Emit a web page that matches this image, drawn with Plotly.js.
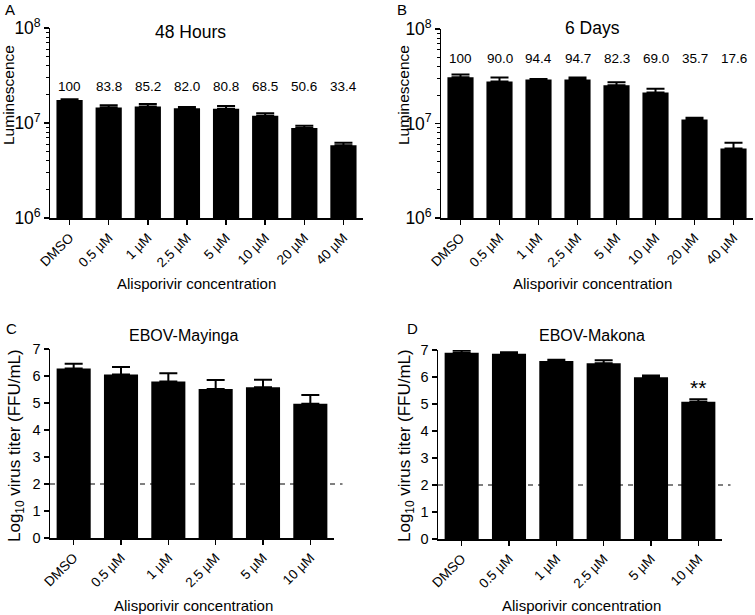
<!DOCTYPE html>
<html><head><meta charset="utf-8">
<script src="https://cdn.plot.ly/plotly-3.0.1.min.js"></script>
<style>html,body{margin:0;padding:0;background:#fff}</style>
</head><body><div id="chart" style="width:755px;height:615px"></div>
<script>
// ---- data ----
const concLuminescence = ['DMSO', '0.5 µM', '1 µM', '2.5 µM', '5 µM', '10 µM', '20 µM', '40 µM'];
const concTiter = ['DMSO', '0.5 µM', '1 µM', '2.5 µM', '5 µM', '10 µM'];

const lum48h = [1.75e7, 1.46e7, 1.49e7, 1.43e7, 1.41e7, 1.19e7, 8.85e6, 5.83e6];
const lum48hErr = [3.0e5, 7.5e5, 9.5e5, 4.2e5, 1.0e6, 7.5e5, 5.3e5, 3.8e5];
const pct48h = ['100', '83.8', '85.2', '82.0', '80.8', '68.5', '50.6', '33.4'];

const lum6d = [3.09e7, 2.79e7, 2.92e7, 2.93e7, 2.54e7, 2.13e7, 1.10e7, 5.44e6];
const lum6dErr = [2.1e6, 2.8e6, 3.0e5, 1.4e6, 1.95e6, 2.0e6, 4.8e5, 8.1e5];
const pct6d = ['100', '90.0', '94.4', '94.7', '82.3', '69.0', '35.7', '17.6'];

const titerMayinga = [6.28, 6.06, 5.80, 5.52, 5.58, 4.97];
const titerMayingaErr = [0.17, 0.27, 0.30, 0.33, 0.28, 0.33];
const titerMakona = [6.90, 6.86, 6.59, 6.51, 5.99, 5.08];
const titerMakonaErr = [0.08, 0.06, 0.05, 0.11, 0.07, 0.10];

const detectionLimit = 2;
const significance = [{cat: '10 µM', label: '**'}];

// ---- styling helpers ----
const FONT = 'Arial, "Liberation Sans", sans-serif';
const W = 755, H = 615;
const px = v => v / W;
const py = v => 1 - v / H;

function barTrace(x, y, err, xa, ya, width) {
  return {
    type: 'bar', x: x, y: y, xaxis: xa, yaxis: ya, width: width,
    marker: {color: '#000', line: {width: 0}},
    error_y: {type: 'data', symmetric: false, array: err, arrayminus: err.map(() => 0),
              color: '#000', thickness: 2, width: 9},
    showlegend: false, hoverinfo: 'x+y'
  };
}

const data = [
  barTrace(concLuminescence, lum48h, lum48hErr, 'x', 'y', 0.67),
  barTrace(concLuminescence, lum6d, lum6dErr, 'x2', 'y2', 0.67),
  barTrace(concTiter, titerMayinga, titerMayingaErr, 'x3', 'y3', 0.72),
  barTrace(concTiter, titerMakona, titerMakonaErr, 'x4', 'y4', 0.72)
];

function xAxis(domain, anchor) {
  return {
    domain: domain, anchor: anchor, type: 'category',
    showline: true, linecolor: '#000', linewidth: 1.5,
    ticks: 'outside', ticklen: 5, tickwidth: 1.5, tickcolor: '#000',
    tickangle: -45, tickfont: {family: FONT, size: 13.5, color: '#000'},
    showgrid: false, zeroline: false, fixedrange: true
  };
}
function yLogAxis(domain, anchor) {
  return {
    domain: domain, anchor: anchor, type: 'log', range: [6, 8],
    tickmode: 'linear', tick0: 0, dtick: 1, exponentformat: 'power',
    showline: true, linecolor: '#000', linewidth: 1.5,
    ticks: 'outside', ticklen: 5, tickwidth: 1.5, tickcolor: '#000',
    minor: {ticks: 'outside', ticklen: 3, tickwidth: 1, tickcolor: '#000', dtick: 'D1', showgrid: false},
    tickfont: {family: FONT, size: 14, color: '#000'},
    showgrid: false, zeroline: false, fixedrange: true
  };
}
function yLinAxis(domain, anchor) {
  return {
    domain: domain, anchor: anchor, range: [0, 7],
    tickmode: 'linear', tick0: 0, dtick: 1,
    showline: true, linecolor: '#000', linewidth: 1.5,
    ticks: 'outside', ticklen: 5, tickwidth: 1.5, tickcolor: '#000',
    tickfont: {family: FONT, size: 14.5, color: '#000'},
    showgrid: false, zeroline: false, fixedrange: true
  };
}

const annotations = [];
function txt(text, x, y, size, extra) {
  annotations.push(Object.assign({
    text: text, x: x, y: y, xref: 'paper', yref: 'paper', showarrow: false,
    xanchor: 'center', yanchor: 'middle', font: {family: FONT, size: size, color: '#000'}
  }, extra || {}));
}
// value labels above bars
pct48h.forEach((t, i) => annotations.push({text: t, x: concLuminescence[i], y: 7.38, xref: 'x', yref: 'y',
  showarrow: false, font: {family: FONT, size: 13.5, color: '#000'}}));
pct6d.forEach((t, i) => annotations.push({text: t, x: concLuminescence[i], y: 7.69, xref: 'x2', yref: 'y2',
  showarrow: false, font: {family: FONT, size: 13.5, color: '#000'}}));
significance.forEach(s => annotations.push({text: s.label, x: s.cat, y: 5.6, xref: 'x4', yref: 'y4',
  showarrow: false, font: {family: FONT, size: 21, color: '#000'}}));

// panel letters & titles
txt('A', px(10), py(10), 15);
txt('B', px(402), py(10), 15);
txt('C', px(11), py(328), 15);
txt('D', px(412), py(328), 15);
txt('48 Hours', px(190), py(32), 17.5);
txt('6 Days', px(592), py(28), 17.5);
txt('EBOV-Mayinga', px(183), py(335), 16);
txt('EBOV-Makona', px(592), py(335), 16);
// axis titles
txt('Luminescence', px(8), py(95), 15.5, {textangle: -90});
txt('Luminescence', px(403), py(95), 15.5, {textangle: -90});
txt('Log<sub>10</sub> virus titer (FFU/mL)', px(16), py(446), 17, {textangle: -90});
txt('Log<sub>10</sub> virus titer (FFU/mL)', px(406), py(446), 17, {textangle: -90});
txt('Alisporivir concentration', px(196), py(283), 15);
txt('Alisporivir concentration', px(592), py(283), 15);
txt('Alisporivir concentration', px(193), py(605), 15);
txt('Alisporivir concentration', px(581), py(605), 15);

const shapes = ['3', '4'].map(n => ({
  type: 'line', xref: 'x' + n + ' domain', yref: 'y' + n, x0: 0, x1: 1.03,
  y0: detectionLimit, y1: detectionLimit, layer: 'above',
  line: {color: '#000', width: 1, dash: '5px,5px'}
}));

const layout = {
  width: W, height: H, margin: {l: 0, r: 0, t: 0, b: 0},
  paper_bgcolor: '#fff', plot_bgcolor: '#fff',
  font: {family: FONT, color: '#000'},
  showlegend: false,
  xaxis: xAxis([px(50), px(363)], 'y'),
  yaxis: yLogAxis([py(218), py(28)], 'x'),
  xaxis2: xAxis([px(441), px(753)], 'y2'),
  yaxis2: yLogAxis([py(218), py(29)], 'x2'),
  xaxis3: xAxis([px(50), px(334)], 'y3'),
  yaxis3: yLinAxis([py(538), py(349)], 'x3'),
  xaxis4: xAxis([px(438), px(722)], 'y4'),
  yaxis4: yLinAxis([py(539), py(350)], 'x4'),
  annotations: annotations,
  shapes: shapes
};

Plotly.newPlot('chart', data, layout, {displayModeBar: false, staticPlot: true});
</script>
</body></html>
